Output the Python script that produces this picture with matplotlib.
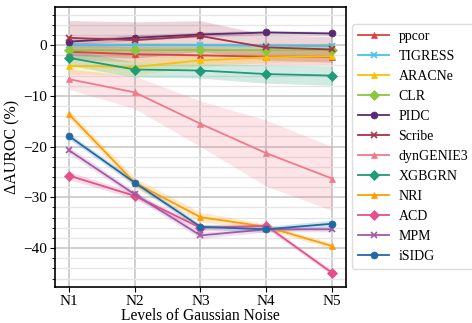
import matplotlib
matplotlib.use("Agg")
import matplotlib.pyplot as plt
from matplotlib.ticker import MultipleLocator
import numpy as np

plt.rcParams['font.family'] = ['Liberation Serif', 'DejaVu Serif']
plt.rcParams['mathtext.fontset'] = 'stix'

levels = ["N1", "N2", "N3", "N4", "N5"]
methods = ["ppcor", "TIGRESS", "ARACNe", "CLR", "PIDC", "Scribe",
           "dynGENIE3", "XGBGRN", "NRI", "ACD", "MPM", "iSIDG"]

ppcor     = [-1.3, -1.8, -2.0, -2.3, -2.3]
tigress   = [0.0, 0.0, 0.0, -0.1, -0.2]
aracne    = [-4.1, -4.3, -3.0, -2.4, -2.2]
clr       = [-1.0, -1.0, -0.95, -1.0, -1.0]
pidc      = [0.7, 1.45, 2.1, 2.5, 2.3]
scribe    = [1.45, 1.0, 1.8, -0.45, -0.85]
dyngenie3 = [-6.7, -9.3, -15.5, -21.3, -26.3]
xgbgrn    = [-2.5, -4.8, -5.0, -5.7, -6.0]
nri       = [-13.6, -27.1, -33.9, -35.8, -39.6]
acd       = [-25.7, -29.7, -36.0, -35.6, -44.9]
mpm       = [-20.7, -29.4, -37.5, -36.3, -36.3]
isidg     = [-17.9, -27.1, -35.8, -36.3, -35.2]

ppcor_sd     = [1.5, 1.5, 1.5, 1.5, 1.5]
tigress_sd   = [0.5, 0.5, 0.5, 0.5, 0.5]
aracne_sd    = [1.6, 1.6, 1.2, 1.0, 1.0]
clr_sd       = [1.5, 1.5, 1.3, 1.2, 1.2]
pidc_sd      = [0.6, 0.6, 0.5, 0.4, 0.4]
scribe_sd    = [3.4, 3.6, 3.0, 2.5, 2.5]
dyngenie3_sd = [2.0, 3.2, 4.5, 6.5, 6.3]
xgbgrn_sd    = [1.5, 1.5, 1.5, 1.8, 1.9]
nri_sd       = [0.8, 1.0, 1.0, 0.5, 0.6]
acd_sd       = [0.8, 0.6, 0.6, 0.5, 0.5]
mpm_sd       = [0.7, 0.6, 0.6, 0.5, 0.5]
isidg_sd     = [0.6, 0.6, 0.5, 0.6, 0.7]

series = [ppcor, tigress, aracne, clr, pidc, scribe, dyngenie3, xgbgrn, nri, acd, mpm, isidg]
sds = [ppcor_sd, tigress_sd, aracne_sd, clr_sd, pidc_sd, scribe_sd, dyngenie3_sd,
       xgbgrn_sd, nri_sd, acd_sd, mpm_sd, isidg_sd]
colors = ['#e0403f', '#45c3e6', '#f6c300', '#8cc63e', '#5a2a72', '#a83246',
          '#f07a8b', '#1c9c78', '#ff9c00', '#e6508a', '#a35aa6', '#1f6aa5']
markers = ['^', 'x', '^', 'D', 'o', 'x', '^', 'D', '^', 'D', 'x', 'o']

fig = plt.figure(figsize=(4.72, 3.23), dpi=100)
ax = fig.add_axes([0.1165, 0.111, 0.6165, 0.867])
x = np.arange(len(levels))

for name, y, sd, c, m in zip(methods, series, sds, colors, markers):
    y = np.array(y); sd = np.array(sd)
    ax.fill_between(x, y - sd, y + sd, color=c, alpha=0.2, linewidth=0, zorder=2)
    ax.plot(x, y, color=c, marker=m, markersize=5, linewidth=1.3, label=name,
            markeredgewidth=1.2 if m == 'x' else 0.5, zorder=3)

ax.set_xlim(-0.21, 4.21)
ax.set_ylim(-47.7, 7.5)
ax.set_xticks(x)
ax.set_xticklabels(levels)
ax.yaxis.set_major_locator(MultipleLocator(10))
ax.yaxis.set_minor_locator(MultipleLocator(2))
ax.grid(True, which='major', color='#c4c4c4', linewidth=1.1, zorder=0)
ax.grid(True, which='minor', axis='y', color='#e6e6e6', linewidth=1.0, zorder=0)
ax.set_axisbelow(True)
ax.tick_params(labelsize=11, pad=2)
ax.tick_params(which='minor', length=2.5)
for s in ax.spines.values():
    s.set_linewidth(1.2)
ax.set_xlabel("Levels of Gaussian Noise", fontsize=11.2, labelpad=0)
ax.set_ylabel("ΔAUROC (%)", fontsize=11.5, labelpad=2)

fig.legend(loc='upper left', bbox_to_anchor=(352/472, 1 - 24/323), fontsize=10,
           handlelength=2.2, labelspacing=0.5, borderpad=0.45, borderaxespad=0,
           handletextpad=0.7, framealpha=1, edgecolor='#dddddd', fancybox=True)

fig.savefig("out.png", dpi=100)
